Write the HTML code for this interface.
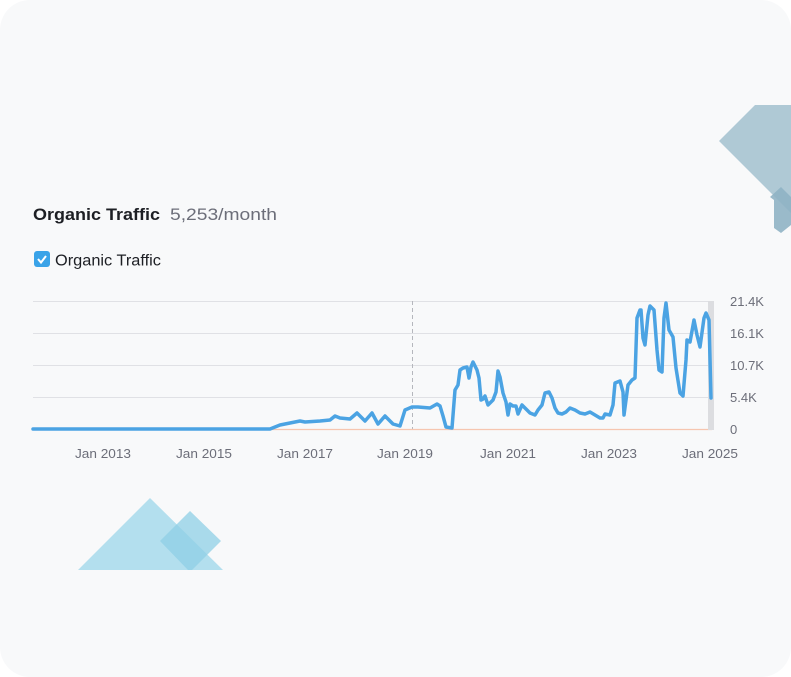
<!DOCTYPE html>
<html><head><meta charset="utf-8"><style>
html,body{margin:0;padding:0;background:#fff;}
body{width:791px;height:677px;position:relative;overflow:hidden;font-family:"Liberation Sans",sans-serif;}
.card{position:absolute;left:0;top:0;width:791px;height:677px;background:#f8f9fa;border-radius:30px;}
</style></head><body>
<div class="card"></div>
<svg width="791" height="677" style="position:absolute;left:0;top:0" xmlns="http://www.w3.org/2000/svg">
<polygon points="719,141 755,105 791,105 791,213" fill="#afc9d5"/>
<polygon points="770,197 781,187 791,197 791,225 781,233 774,228 774,200" fill="#8fb3c4" opacity="0.9"/>
<polygon points="78,570 150,498 223,570" fill="#b3dfee"/>
<polygon points="160,541 190,511 221,541 192,570 188,570" fill="#8fcfe6" opacity="0.75"/>
<text x="33" y="220" font-size="17" font-weight="bold" fill="#1d1f24" textLength="127" lengthAdjust="spacingAndGlyphs">Organic Traffic</text>
<text x="170" y="220" font-size="17" fill="#6c6e79" textLength="107" lengthAdjust="spacingAndGlyphs">5,253/month</text>
<rect x="34" y="251" width="16" height="16" rx="3" fill="#3aa3e8"/>
<polyline points="38,259 41,262.5 46,256" fill="none" stroke="#fff" stroke-width="2"/>
<text x="55" y="265.5" font-size="15.5" fill="#1d1f24" textLength="106" lengthAdjust="spacingAndGlyphs">Organic Traffic</text>
<g stroke="#e0e1e5" stroke-width="1">
<line x1="33" y1="301.5" x2="712" y2="301.5"/><line x1="33" y1="333.5" x2="712" y2="333.5"/>
<line x1="33" y1="365.5" x2="712" y2="365.5"/><line x1="33" y1="397.5" x2="712" y2="397.5"/>
</g>
<line x1="412.5" y1="301" x2="412.5" y2="430" stroke="#b5b7bd" stroke-dasharray="4,3"/>
<line x1="33" y1="429.5" x2="712" y2="429.5" stroke="#f6c6b0" stroke-width="1.2"/>
<rect x="708" y="301" width="6" height="129" fill="#dcdde0"/>
<g font-size="13" fill="#6c6e79">
<text x="730" y="306">21.4K</text><text x="730" y="338">16.1K</text><text x="730" y="370">10.7K</text><text x="730" y="402">5.4K</text><text x="730" y="434">0</text>
<text x="103" y="458" text-anchor="middle" textLength="56" lengthAdjust="spacingAndGlyphs">Jan 2013</text><text x="204" y="458" text-anchor="middle" textLength="56" lengthAdjust="spacingAndGlyphs">Jan 2015</text>
<text x="305" y="458" text-anchor="middle" textLength="56" lengthAdjust="spacingAndGlyphs">Jan 2017</text><text x="405" y="458" text-anchor="middle" textLength="56" lengthAdjust="spacingAndGlyphs">Jan 2019</text>
<text x="508" y="458" text-anchor="middle" textLength="56" lengthAdjust="spacingAndGlyphs">Jan 2021</text><text x="609" y="458" text-anchor="middle" textLength="56" lengthAdjust="spacingAndGlyphs">Jan 2023</text>
<text x="710" y="458" text-anchor="middle" textLength="56" lengthAdjust="spacingAndGlyphs">Jan 2025</text>
</g>
<polyline fill="none" stroke="#4ba3e3" stroke-width="3.5" stroke-linejoin="round" stroke-linecap="round" points="33,429 270,429 280,425 290,423 300,421 305,422 320,421 330,420 335,416 340,418 350,419 357,413 365,421 372,413 378,424 385,416 393,424 400,426 405,410 412,407 418,407 430,408 437,404 440,406 443,416 446,427 452,428 455,390 458,385 460,370 463,368 467,367 469,378 471,367 473,362 477,370 479,378 481,400 483,399 485,396 488,405 493,400 496,392 498,371 500,377 503,393 506,402 508,415 510,404 513,406 516,406 518,414 522,405 526,409 530,413 535,415 538,410 542,405 545,393 549,392 552,398 555,408 558,413 562,414 566,412 570,408 575,410 580,413 585,414 590,412 595,415 600,418 603,418 605,414 610,415 613,405 615,383 620,381 623,392 624,415 626,400 628,385 632,380 635,378 637,318 640,310 641,310 643,338 645,345 648,315 650,306 654,310 657,350 659,370 662,372 664,318 666,303 669,330 673,337 676,368 680,393 683,396 686,360 687,340 690,342 694,320 697,335 700,347 704,318 706,313 709,320 711,398"/>
</svg>
</body></html>
